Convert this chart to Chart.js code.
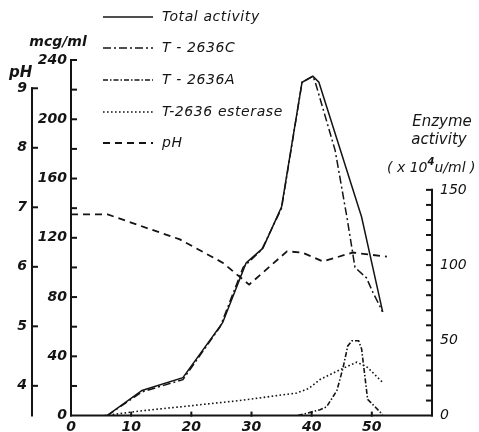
<!DOCTYPE html>
<html>
<head>
<meta charset="utf-8">
<script src="https://cdn.jsdelivr.net/npm/chart.js@4.4.1/dist/chart.umd.min.js"></script>
<style>
  html, body { margin: 0; padding: 0; background: #ffffff; }
  #wrap { width: 479px; height: 432px; }
</style>
</head>
<body>
<div id="wrap"><canvas id="c" width="479" height="432"></canvas></div>
<script>
// Cultivation time (h) and measured values for each series
const totalTime = [6, 11.8, 18.6, 25.2, 29.1, 31.9, 35.0, 38.4, 40.2, 41.2, 48.3, 51.8];
const totalMcg  = [0, 17, 25.6, 62.7, 103, 113, 141, 225, 229, 225, 134, 70];

const cTime = [6, 11.8, 18.6, 24.8, 28.6, 31.7, 35.0, 38.4, 40.2, 40.6, 43.9, 45.9, 47.2, 49.1, 50.2, 51.8];
const cMcg  = [0, 16, 24.3, 60, 100, 112, 140, 225, 229, 225, 179, 133, 100, 93, 83, 70];

const aTime = [37.7, 41.4, 42.5, 44.2, 45.2, 46.0, 46.7, 47.8, 48.3, 49.3, 51.8];
const aMcg  = [0, 4, 6, 17, 32, 47, 50.5, 50.5, 45, 11, 0.7];

const esteraseTime = [5.6, 12, 18.6, 28, 37.5, 39.5, 41.4, 45, 47.5, 49.3, 51.8];
const esteraseUnits = [0, 3.3, 6, 10, 15, 18, 24, 31, 35.5, 32, 22];

const phTime = [0, 6.1, 18.1, 25.2, 29.6, 35.9, 38.4, 41.9, 46.8, 52.5];
const phValue = [6.88, 6.88, 6.46, 6.07, 5.70, 6.26, 6.24, 6.09, 6.24, 6.17];

// Tick labels
const timeTicks = [0, 10, 20, 30, 40, 50];
const mcgTicks = [0, 40, 80, 120, 160, 200, 240];
const phTicks = [4, 5, 6, 7, 8, 9];
const enzymeTicks = [0, 50, 100, 150];

const seriesLabels = ['Total activity', 'T - 2636C', 'T - 2636A', 'T-2636 esterase', 'pH'];

const pts = (xs, ys) => xs.map((v, i) => ({ x: v, y: ys[i] }));
const INK = '#141414';
const tickFont = { family: 'DejaVu Sans', size: 14, style: 'italic', weight: 'bold' };

function fixedTicks(values) {
  return scale => { scale.ticks = values.map(v => ({ value: v })); };
}

// Axis lines and tick marks, placed through each scale
const axisFrame = {
  id: 'axisFrame',
  afterDraw(chart) {
    const { ctx } = chart;
    const { x, ph, mcg, enz } = chart.scales;
    const seg = (x1, y1, x2, y2) => { ctx.beginPath(); ctx.moveTo(x1, y1); ctx.lineTo(x2, y2); ctx.stroke(); };
    ctx.save();
    ctx.strokeStyle = INK;
    ctx.lineWidth = 2;
    ctx.lineCap = 'square';
    const base = mcg.getPixelForValue(0);

    // time axis
    seg(x.getPixelForValue(0), base, x.getPixelForValue(60), base);
    for (let t = 10; t <= 50; t += 10) {
      const px = x.getPixelForValue(t);
      seg(px, base, px, base - 3);
    }

    // pH axis
    const phX = ph.right;
    seg(phX, ph.getPixelForValue(3.5), phX, ph.getPixelForValue(9));
    phTicks.forEach(v => { const py = ph.getPixelForValue(v); seg(phX, py, phX + 5, py); });

    // mcg/ml axis
    const mX = mcg.right;
    seg(mX, base, mX, mcg.getPixelForValue(240));
    for (let v = 20; v <= 240; v += 20) { const py = mcg.getPixelForValue(v); seg(mX, py, mX + 5, py); }

    // enzyme activity axis
    const eX = enz.left;
    seg(eX, base, eX, enz.getPixelForValue(150));
    for (let v = 10; v <= 150; v += 10) { const py = enz.getPixelForValue(v); seg(eX - 5, py, eX, py); }
    ctx.restore();
  }
};

// Axis titles written horizontally above each axis
const axisTitles = {
  id: 'axisTitles',
  afterDraw(chart) {
    const { ctx } = chart;
    ctx.save();
    ctx.fillStyle = INK;
    ctx.textBaseline = 'middle';
    ctx.font = 'italic bold 15px "DejaVu Sans"';
    ctx.textAlign = 'left';
    ctx.fillText('pH', 9, 73);
    ctx.textAlign = 'center';
    ctx.font = 'italic bold 14px "DejaVu Sans"';
    ctx.fillText('mcg/ml', 58, 42);
    ctx.font = 'italic 15px "DejaVu Sans"';
    ctx.fillText('Enzyme', 442, 122);
    ctx.fillText('activity', 439, 140);
    // ( x 10^4 u/ml )
    ctx.textAlign = 'left';
    let px = 387;
    const part = (s, font, dy) => { ctx.font = font; ctx.fillText(s, px, 168 + dy); px += ctx.measureText(s).width; };
    part('( x 10', 'italic 14px "DejaVu Sans"', 0);
    part('4', 'italic bold 10px "DejaVu Sans"', -6);
    part('u/ml )', 'italic 14px "DejaVu Sans"', 0);
    ctx.restore();
  }
};

// Key drawn from the datasets' own styles
const keyBlock = {
  id: 'keyBlock',
  afterDraw(chart) {
    const { ctx } = chart;
    const rows = [17, 48, 80, 112, 143];
    ctx.save();
    chart.data.datasets.forEach((ds, i) => {
      const y = rows[i];
      ctx.strokeStyle = ds.borderColor;
      ctx.lineWidth = ds.borderWidth;
      ctx.setLineDash(ds.borderDash || []);
      ctx.beginPath(); ctx.moveTo(103, y); ctx.lineTo(153, y); ctx.stroke();
      ctx.setLineDash([]);
      ctx.fillStyle = INK;
      ctx.font = 'italic 14px "DejaVu Sans"';
      ctx.letterSpacing = '0.6px';
      ctx.textBaseline = 'middle';
      ctx.textAlign = 'left';
      ctx.fillText(ds.label, 162, y);
    });
    ctx.restore();
  }
};

const lineStyle = (label, data, axis, dash, width) => ({
  label, data, yAxisID: axis,
  borderColor: INK, borderWidth: width, borderDash: dash,
  pointRadius: 0, tension: 0, fill: false
});

new Chart(document.getElementById('c'), {
  type: 'line',
  data: {
    datasets: [
      lineStyle(seriesLabels[0], pts(totalTime, totalMcg), 'mcg', [], 1.5),
      lineStyle(seriesLabels[1], pts(cTime, cMcg), 'mcg', [8, 3, 2, 3], 1.5),
      lineStyle(seriesLabels[2], pts(aTime, aMcg), 'mcg', [5, 2, 1.5, 2], 1.6),
      lineStyle(seriesLabels[3], pts(esteraseTime, esteraseUnits), 'enz', [1.6, 2.4], 1.6),
      lineStyle(seriesLabels[4], pts(phTime, phValue), 'ph', [7, 5], 1.8)
    ]
  },
  options: {
    responsive: false,
    animation: false,
    devicePixelRatio: 1,
    layout: { padding: { top: 60, left: 0, right: 0, bottom: 0 } },
    plugins: { legend: { display: false }, tooltip: { enabled: false } },
    scales: {
      x: {
        type: 'linear', position: 'bottom', min: 0, max: 60,
        afterBuildTicks: fixedTicks(timeTicks),
        afterFit: s => { s.height = 16; },
        grid: { display: false, drawTicks: false }, border: { display: false },
        ticks: { font: tickFont, color: INK, padding: 3, maxRotation: 0 }
      },
      ph: {
        type: 'linear', position: 'left', weight: 2, min: 3.5, max: 9.475,
        afterBuildTicks: fixedTicks(phTicks),
        afterFit: s => { s.width = 32; },
        grid: { display: false, drawTicks: false }, border: { display: false },
        ticks: { font: tickFont, color: INK, padding: 5 }
      },
      mcg: {
        type: 'linear', position: 'left', weight: 1, min: 0, max: 240,
        afterBuildTicks: fixedTicks(mcgTicks),
        afterFit: s => { s.width = 39; },
        grid: { display: false, drawTicks: false }, border: { display: false },
        ticks: { font: tickFont, color: INK, padding: 4 }
      },
      enz: {
        type: 'linear', position: 'right', min: 0, max: 236.3,
        afterBuildTicks: fixedTicks(enzymeTicks),
        afterFit: s => { s.width = 47; },
        grid: { display: false, drawTicks: false }, border: { display: false },
        ticks: { font: { family: 'DejaVu Sans', size: 14, style: 'italic' }, color: INK, padding: 8 }
      }
    }
  },
  plugins: [axisFrame, axisTitles, keyBlock]
});
</script>
</body>
</html>
